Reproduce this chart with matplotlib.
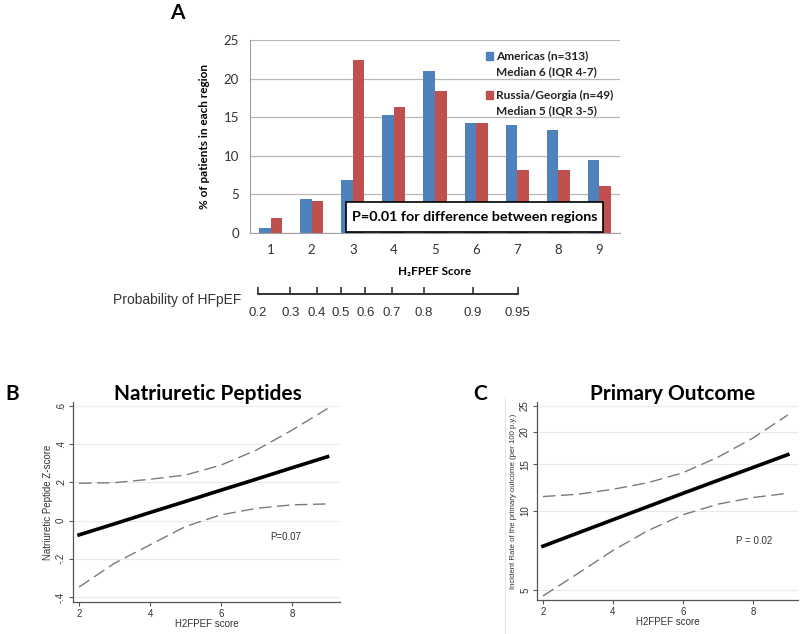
import numpy as np
import matplotlib
matplotlib.use("Agg")
import matplotlib.pyplot as plt
from matplotlib.lines import Line2D
from matplotlib.ticker import FixedLocator, NullLocator, NullFormatter


# ========= data =========

scores = [1, 2, 3, 4, 5, 6, 7, 8, 9]
americas_pct = [0.6, 4.4, 6.9, 15.3, 21.0, 14.3, 14.0, 13.4, 9.5]
russia_pct = [2.0, 4.1, 22.4, 16.3, 18.4, 14.3, 8.2, 8.2, 6.1]

prob_ticks = [0.2, 0.3, 0.4, 0.5, 0.6, 0.7, 0.8, 0.9, 0.95]
prob_labels = ["0.2", "0.3", "0.4", "0.5", "0.6", "0.7", "0.8", "0.9", "0.95"]

curve_x = [2, 3, 4, 5, 6, 7, 8, 9]
np_fit = [-0.075, -0.017, 0.042, 0.100, 0.159, 0.217, 0.276, 0.334]
np_upper = [0.195, 0.198, 0.216, 0.238, 0.290, 0.369, 0.473, 0.586]
np_lower = [-0.348, -0.223, -0.127, -0.031, 0.030, 0.064, 0.082, 0.087]

po_fit = [7.34, 8.24, 9.25, 10.38, 11.65, 13.05, 14.60, 16.35]
po_upper = [11.33, 11.56, 12.07, 12.79, 13.95, 15.98, 18.89, 23.13]
po_lower = [4.75, 5.78, 7.07, 8.41, 9.66, 10.60, 11.23, 11.66]

BLUE = "#4F81BD"
RED = "#C0504D"
W, H = 800, 634


def fx(x):
    return x / W


def fy(y):
    return 1 - y / H


def box(left, top, right, bottom):
    return [fx(left), fy(bottom), (right - left) / W, (bottom - top) / H]


fig = plt.figure(figsize=(8, 6.34), dpi=100)
fig.patch.set_facecolor("white")

# ========= panel A: bar chart =========

calibri = ["Lato", "DejaVu Sans"]
ax = fig.add_axes(box(250, 40, 620, 233))
x = np.array(scores)
bw = 0.28
ax.bar(x - bw / 2, americas_pct, bw, color=BLUE, zorder=2)
ax.bar(x + bw / 2, russia_pct, bw, color=RED, zorder=2)
ax.set_xlim(0.5, 9.5)
ax.set_ylim(0, 25)
ax.set_yticks([0, 5, 10, 15, 20, 25])
ax.set_xticks(scores)
ax.yaxis.grid(True, color="#B8B8B8", linewidth=0.9)
ax.set_axisbelow(True)
for s in ["top", "right"]:
    ax.spines[s].set_visible(False)
ax.spines["left"].set_color("#A0A0A0")
ax.spines["bottom"].set_color("#A0A0A0")
ax.tick_params(length=0, labelsize=9.5, colors="#333333", pad=8)
for lab in ax.get_xticklabels() + ax.get_yticklabels():
    lab.set_family(calibri)
ax.set_ylabel("% of patients in each region", family=calibri,
              fontweight="bold", fontsize=8.5, labelpad=10)
ax.set_xlabel("H\u2082FPEF Score", family=calibri, fontweight="bold",
              fontsize=8.5, labelpad=7)

fig.text(fx(177), fy(13), "A", family=calibri, fontweight="bold",
         fontsize=15, ha="center", va="center")

# legend
leg_items = [
    (BLUE, 56, ["Americas (n=313)", "Median 6 (IQR 4-7)"]),
    (RED, 95, ["Russia/Georgia (n=49)", "Median 5 (IQR 3-5)"]),
]
for color, ytop, lines in leg_items:
    fig.patches.append(plt.Rectangle((fx(486), fy(ytop + 3.5)), 7 / W, 7 / H,
                                     transform=fig.transFigure, color=color))
    for i, t in enumerate(lines):
        fig.text(fx(496), fy(ytop + 15.5 * i), t, family=calibri,
                 fontweight="bold", fontsize=8.6, ha="left", va="center",
                 color="#222222")

# p-value box
fig.patches.append(plt.Rectangle((fx(346), fy(232)), 257 / W, 30 / H,
                                 transform=fig.transFigure, fc="white",
                                 ec="black", lw=1.2, zorder=5))
fig.text(fx(474.5), fy(217), "P=0.01 for difference between regions",
         family=calibri, fontweight="bold", fontsize=10.3, ha="center",
         va="center", zorder=6)

# probability axis
axp = fig.add_axes(box(258, 293.5, 517.5, 294))
axp.set_xscale("logit")
axp.set_xlim(0.2, 0.95)
axp.set_ylim(0, 1)
for s in ["top", "right", "left"]:
    axp.spines[s].set_visible(False)
axp.spines["bottom"].set_linewidth(1.4)
axp.spines["bottom"].set_color("#333333")
axp.xaxis.set_major_locator(FixedLocator(prob_ticks))
axp.xaxis.set_minor_locator(NullLocator())
axp.xaxis.set_minor_formatter(NullFormatter())
axp.set_xticklabels(prob_labels)
axp.set_yticks([])
axp.tick_params(axis="x", direction="in", length=5, width=1.2,
                color="#333333", labelsize=9.5, pad=9, labelcolor="#333333")
for lab in axp.get_xticklabels():
    lab.set_family("Liberation Sans")
fig.text(fx(113), fy(300), "Probability of HFpEF", family="Liberation Sans",
         fontsize=10, ha="left", va="center", color="#333333")


# ========= panels B and C: spline plots =========

def style_stata(a):
    for s in ["top", "right"]:
        a.spines[s].set_visible(False)
    for s in ["left", "bottom"]:
        a.spines[s].set_color("#555555")
        a.spines[s].set_linewidth(0.9)
    a.yaxis.grid(True, color="#EAEAEA", linewidth=0.8)
    a.set_axisbelow(True)
    a.tick_params(length=3, width=0.8, color="#555555", labelsize=7,
                  labelcolor="#333333", pad=2)
    for lab in a.get_yticklabels():
        lab.set_rotation(90)
        lab.set_va("center")
    for lab in a.get_xticklabels() + a.get_yticklabels():
        lab.set_family("Liberation Sans")


dash = (0, (9, 4))

axb = fig.add_axes(box(73, 402, 340, 602))
axb.plot(curve_x, np_upper, color="#7A7A7A", lw=1.0, linestyle=dash)
axb.plot(curve_x, np_lower, color="#7A7A7A", lw=1.0, linestyle=dash)
axb.plot(curve_x, np_fit, color="black", lw=2.6)
axb.set_xlim(1.83, 9.35)
axb.set_ylim(-0.426, 0.62)
axb.set_xticks([2, 4, 6, 8])
axb.set_yticks([-0.4, -0.2, 0, 0.2, 0.4, 0.6])
axb.set_yticklabels(["-.4", "-.2", "0", ".2", ".4", ".6"])
style_stata(axb)
axb.set_xlabel("H2FPEF score", family="Liberation Sans", fontsize=7,
               color="#333333", labelpad=0)
axb.set_ylabel("Natriuretic Peptide Z-score", family="Liberation Sans",
               fontsize=7, color="#333333", labelpad=2)
axb.text(7.83, -0.084, "P=0.07", family="Liberation Sans", fontsize=7,
         ha="center", va="center", color="#333333")
fig.text(fx(208), fy(394), "Natriuretic Peptides", family=calibri,
         fontweight="bold", fontsize=15, ha="center", va="center")
fig.text(fx(12), fy(394), "B", family=calibri, fontweight="bold",
         fontsize=15, ha="center", va="center")

axc = fig.add_axes(box(537, 402, 798, 600))
axc.plot(curve_x, po_upper, color="#7A7A7A", lw=1.0, linestyle=dash)
axc.plot(curve_x, po_lower, color="#7A7A7A", lw=1.0, linestyle=dash)
axc.plot(curve_x, po_fit, color="black", lw=2.6)
axc.set_yscale("log")
axc.set_xlim(1.83, 9.29)
axc.set_ylim(4.585, 25.9)
axc.set_xticks([2, 4, 6, 8])
axc.yaxis.set_major_locator(FixedLocator([5, 10, 15, 20, 25]))
axc.yaxis.set_minor_locator(NullLocator())
axc.yaxis.set_minor_formatter(NullFormatter())
axc.set_yticklabels(["5", "10", "15", "20", "25"])
style_stata(axc)
axc.set_xlabel("H2FPEF score", family="Liberation Sans", fontsize=7,
               color="#333333", labelpad=0)
axc.set_ylabel("Incident Rate of the primary outcome (per 100 p.y.)",
               family="Liberation Sans", fontsize=5.6, color="#333333",
               labelpad=2)
axc.text(8.03, 7.65, "P = 0.02", family="Liberation Sans", fontsize=7,
         ha="center", va="center", color="#333333")
fig.text(fx(673), fy(394), "Primary Outcome", family=calibri,
         fontweight="bold", fontsize=15, ha="center", va="center")
fig.text(fx(480), fy(394), "C", family=calibri, fontweight="bold",
         fontsize=15, ha="center", va="center")

# faint frame edge left of panel C
fig.add_artist(Line2D([fx(505), fx(505)], [fy(397), fy(634)],
                      color="#E6E6E6", lw=0.8))

fig.savefig("out.png", dpi=100, facecolor="white")
